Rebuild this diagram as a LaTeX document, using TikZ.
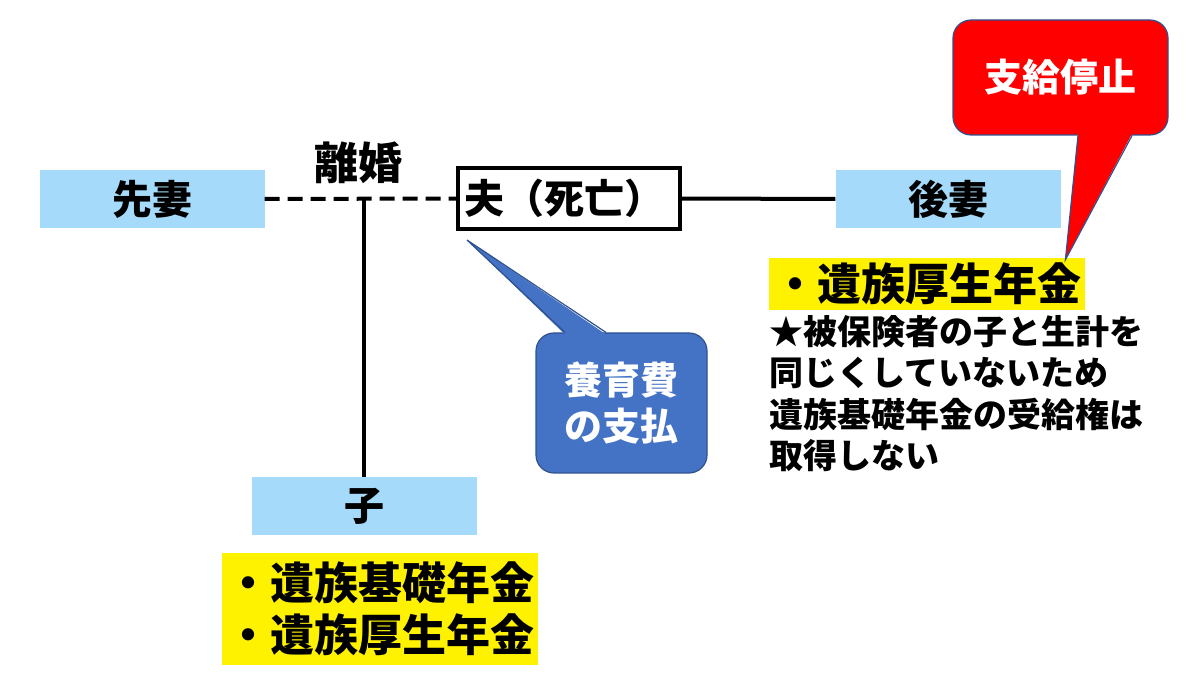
\documentclass[tikz,border=0pt]{standalone}
\usepackage{fontspec}
\setmainfont{Noto Sans CJK JP}
\usetikzlibrary{calc}
\definecolor{sky}{RGB}{166,218,250}
\definecolor{callblue}{RGB}{68,114,196}
\definecolor{callline}{RGB}{47,82,143}
\def\jp#1#2{\bfseries\fontsize{#1}{#2}\selectfont}
\tikzset{
	person/.style={fill=sky, minimum width=225pt, minimum height=58pt, inner sep=0pt, font=\jp{40}{48}},
	husband/.style={draw=black, line width=4pt, fill=white, minimum height=61pt, text width=210pt, inner xsep=6pt, align=left, font=\jp{40}{48}},
	hilite/.style={fill=yellow, inner xsep=4pt, inner ysep=0pt, align=left, font=\jp{44}{52}},
	note/.style={inner sep=0pt, align=left, font=\jp{34}{41.5}},
	bubble/.style={draw=callline, line width=1.2pt, rounded corners=18pt, text=white, align=center},
	kinship/.style={line width=4pt},
	divorce/.style={line width=4pt, dash pattern=on 15pt off 8pt}
}

\begin{document}
\begin{tikzpicture}[x=1pt, y=-1pt]
			%%%%% START %%%%%
			\useasboundingbox (0,0) rectangle (1200,700);
			
			\node[person] (senmai) at (152,199) {先妻};
			\node[husband] (otto) at (569,198.5) {夫（死亡）};
			\node[person] (gomai) at (948,199) {後妻};
			\node[person] (ko) at (364,506) {子};
			\node[font=\jp{44}{52}] (rikon) at (358,163) {離婚};
			
			\draw[divorce] (senmai) -- (otto);
			\draw[kinship] (otto) -- (gomai);
			\draw[kinship] (ko.north) -- (ko.north |- senmai.east);
			
			\node[hilite, anchor=west, minimum height=52pt] (gokosei) at (769,284) {・遺族厚生年金};
			\node[note, anchor=north west] (chui) at (769,315) {★被保険者の子と生計を\\同じくしていないため\\遺族基礎年金の受給権は\\取得しない};
			\node[hilite, anchor=north west, minimum height=112pt] (kokin) at (222,553) {・遺族基礎年金\\・遺族厚生年金};
			
			\node[bubble, fill=red, minimum width=215pt, minimum height=115pt, font=\jp{38}{46}] (teishi) at (1060.5,77.5) {支給停止};
			\coordinate (teishitip) at ($(gokosei.north east)+(-20,2)$);
			\fill[red] ($(teishi.south)+(17.5,-2)$) -- (teishitip) -- ($(teishi.south)+(71.5,-2)$) -- cycle;
			\draw[callline, line width=1.2pt] ($(teishi.south)+(17.5,0)$) -- (teishitip) -- ($(teishi.south)+(71.5,0)$);
			
			\node[bubble, fill=callblue, minimum width=171pt, minimum height=140pt, font=\jp{38}{46}] (yoiku) at (621.5,403) {養育費\\の支払};
			\coordinate (yoikutip) at ($(otto.south west)+(11,9)$);
			\fill[callblue] ($(yoiku.north)+(-56.5,2)$) -- (yoikutip) -- ($(yoiku.north)+(-15.5,2)$) -- cycle;
			\draw[callline, line width=1.2pt] ($(yoiku.north)+(-56.5,0)$) -- (yoikutip) -- ($(yoiku.north)+(-15.5,0)$);
			
			%%%%% END %%%%%
\end{tikzpicture}
\end{document}
